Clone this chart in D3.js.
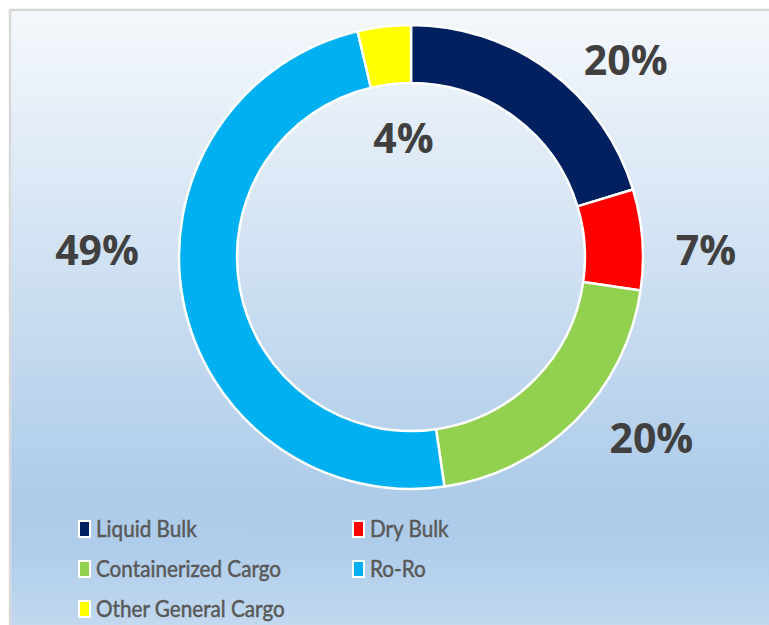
<!DOCTYPE html>
<html>
<head>
<meta charset="utf-8">
<script src="https://cdn.jsdelivr.net/npm/d3@7/dist/d3.min.js"></script>
<style>
  body { margin: 0; background: #ffffff; }
  svg { display: block; }
</style>
</head>
<body>
<svg id="chart"></svg>
<script>
// cargo share data
var categories = ["Liquid Bulk", "Dry Bulk", "Containerized Cargo", "Ro-Ro", "Other General Cargo"];
var shares = [20.3, 7.0, 20.4, 48.6, 3.7];
var colors = ["#002060", "#ff0000", "#92d050", "#00b0f0", "#ffff00"];
// label placement: [angle offset (deg) from slice middle, distance from centre]
var labelPos = [[11, 291], [3, 295], [-8, 301], [12, 314], [3, 119]];

const W = 769, H = 625;
const cx = 411, cy = 257;
const outerR = 232, innerR = 174;

const svg = d3.select('#chart').attr('width', W).attr('height', H);

// background gradient of the chart area
const defs = svg.append('defs');
const grad = defs.append('linearGradient')
  .attr('id', 'bg').attr('x1', 0).attr('y1', 0).attr('x2', 0).attr('y2', 1);
grad.append('stop').attr('offset', '0%').attr('stop-color', '#f5f8fc');
grad.append('stop').attr('offset', '74%').attr('stop-color', '#aecce9');
grad.append('stop').attr('offset', '83%').attr('stop-color', '#afcdea');
grad.append('stop').attr('offset', '100%').attr('stop-color', '#cadef1');

svg.append('rect')
  .attr('x', 10).attr('y', 10)
  .attr('width', 800).attr('height', 650)
  .attr('fill', 'url(#bg)')
  .attr('stroke', '#d9d9d9')
  .attr('stroke-width', 2.5);

const pie = d3.pie().sort(null).value(d => d);
const arcs = pie(shares);
const arc = d3.arc().innerRadius(innerR).outerRadius(outerR);

const g = svg.append('g').attr('transform', `translate(${cx},${cy})`);

g.selectAll('path.slice')
  .data(arcs).enter()
  .append('path')
    .attr('class', 'slice')
    .attr('d', arc)
    .attr('fill', (d, i) => colors[i])
    .attr('stroke', '#ffffff')
    .attr('stroke-width', 2.5)
    .attr('stroke-linejoin', 'round');

const total = d3.sum(shares);
const fmt = d3.format('.0%');

g.selectAll('text.pct')
  .data(arcs).enter()
  .append('text')
    .attr('class', 'pct')
    .attr('x', (d, i) => {
      var a = (d.startAngle + d.endAngle) / 2 + labelPos[i][0] * Math.PI / 180;
      return Math.sin(a) * labelPos[i][1];
    })
    .attr('y', (d, i) => {
      var a = (d.startAngle + d.endAngle) / 2 + labelPos[i][0] * Math.PI / 180;
      return -Math.cos(a) * labelPos[i][1];
    })
    .attr('dy', '0.36em')
    .attr('text-anchor', 'middle')
    .attr('font-family', 'Open Sans, sans-serif')
    .attr('font-weight', 700)
    .attr('font-size', '41px')
    .attr('fill', '#404040')
    .text(d => fmt(d.value / total));

// legend, two columns
const legend = svg.append('g');
const item = legend.selectAll('g.item')
  .data(categories).enter()
  .append('g')
    .attr('class', 'item')
    .attr('transform', (d, i) => `translate(${i % 2 === 0 ? 79 : 353},${529 + Math.floor(i / 2) * 40})`);

item.append('rect')
  .attr('x', 0).attr('y', -8)
  .attr('width', 11).attr('height', 16)
  .attr('fill', (d, i) => colors[i])
  .attr('stroke', '#ffffff')
  .attr('stroke-width', 2);

// calibri-like: a bit narrower and heavier than plain Lato
item.append('text')
  .attr('transform', 'translate(17,8) scale(0.92,1)')
  .attr('font-family', 'Lato, sans-serif')
  .attr('font-size', '22.5px')
  .attr('fill', '#595959')
  .attr('stroke', '#595959')
  .attr('stroke-width', 0.5)
  .text(d => d);
</script>
</body>
</html>
